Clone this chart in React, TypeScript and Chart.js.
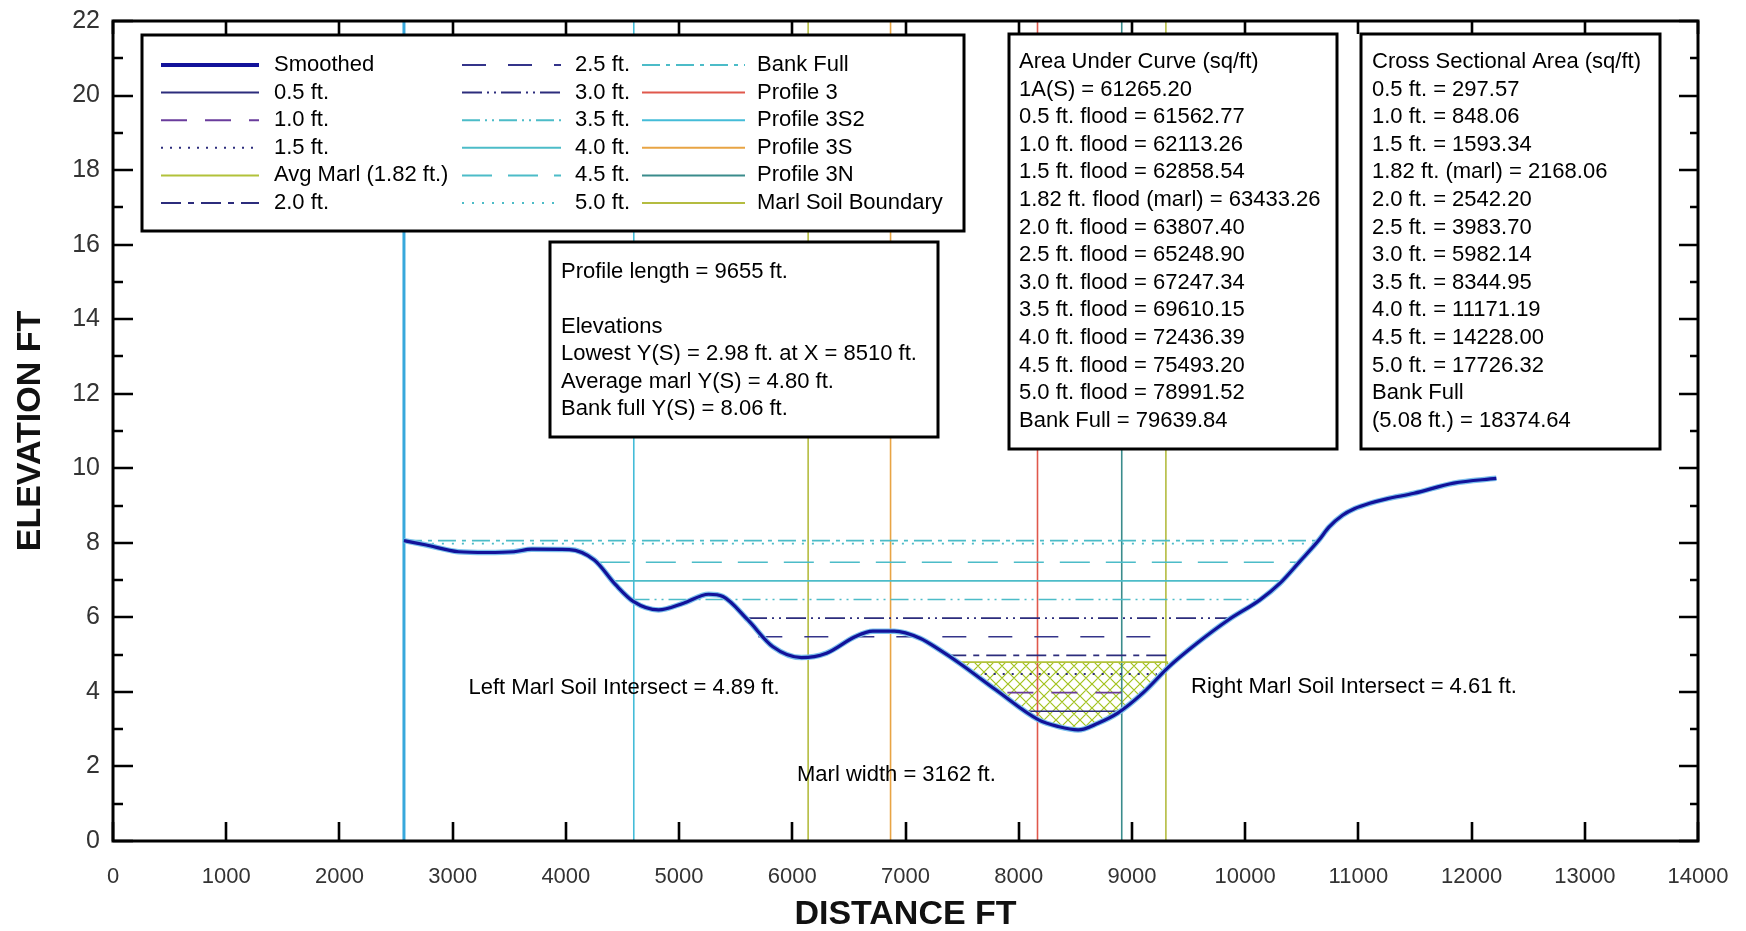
import React, { useEffect, useRef } from "react";
import { Chart, registerables } from "chart.js";
Chart.register(...registerables);

// ---------- DATA ----------
const profileX = [2570, 2768, 3052, 3300, 3541, 3698, 4030, 4251, 4441, 4599, 4819, 5039, 5261, 5387, 5608, 5829, 6081, 6302, 6554, 6712, 6901, 7128, 7305, 7477, 7800, 8176, 8350, 8525, 8700, 8874, 9100, 9328, 9572, 9851, 10131, 10306, 10480, 10654, 10740, 10860, 10969, 11100, 11250, 11492, 11842, 12219];
const profileY = [8.06, 7.94, 7.76, 7.74, 7.76, 7.83, 7.82, 7.54, 6.87, 6.42, 6.2, 6.38, 6.62, 6.56, 5.93, 5.21, 4.92, 5.04, 5.48, 5.63, 5.63, 5.44, 5.12, 4.77, 4.05, 3.25, 3.07, 2.98, 3.16, 3.43, 3.98, 4.68, 5.3, 5.93, 6.47, 6.91, 7.49, 8.08, 8.42, 8.74, 8.92, 9.06, 9.18, 9.33, 9.6, 9.73];

const floodLabels = ["0.5 ft.", "1.0 ft.", "1.5 ft.", "Avg Marl (1.82 ft.)", "2.0 ft.", "2.5 ft.", "3.0 ft.", "3.5 ft.", "4.0 ft.", "4.5 ft.", "5.0 ft.", "Bank Full"];
const floodLevels = [3.48, 3.98, 4.48, 4.8, 4.98, 5.48, 5.98, 6.48, 6.98, 7.48, 7.98, 8.06];
const floodStartX = [8050, 7900, 7620, 7477, 7360, 5700, 5600, 4580, 4410, 4300, 2640, 2570];
const floodEndX = [8900, 9080, 9220, 9320, 9330, 9330, 9850, 10120, 10300, 10480, 10640, 10660];

const verticalLabels = ["Start", "Profile 3S2", "Marl Soil Boundary", "Profile 3S", "Profile 3", "Profile 3N", "Marl Soil Boundary"];
const verticalX = [2570, 4600, 6140, 6868, 8166, 8910, 9300];

const marlLevel = 4.8;
const marlHatchStart = 7477;
const marlHatchEnd = 9328;

const xTickStep = 1000;
const yTickStep = 2;

const legendColumns = [
  ["Smoothed", "0.5 ft.", "1.0 ft.", "1.5 ft.", "Avg Marl (1.82 ft.)", "2.0 ft."],
  ["2.5 ft.", "3.0 ft.", "3.5 ft.", "4.0 ft.", "4.5 ft.", "5.0 ft."],
  ["Bank Full", "Profile 3", "Profile 3S2", "Profile 3S", "Profile 3N", "Marl Soil Boundary"],
];

const profileInfo = [
  "Profile length = 9655 ft.",
  "",
  "Elevations",
  "Lowest Y(S) = 2.98 ft. at X = 8510 ft.",
  "Average marl Y(S) = 4.80 ft.",
  "Bank full Y(S) = 8.06 ft.",
];
const areaLines = [
  "Area Under Curve (sq/ft)",
  "1A(S) = 61265.20",
  "0.5 ft. flood = 61562.77",
  "1.0 ft. flood = 62113.26",
  "1.5 ft. flood = 62858.54",
  "1.82 ft. flood (marl) = 63433.26",
  "2.0 ft. flood = 63807.40",
  "2.5 ft. flood = 65248.90",
  "3.0 ft. flood = 67247.34",
  "3.5 ft. flood = 69610.15",
  "4.0 ft. flood = 72436.39",
  "4.5 ft. flood = 75493.20",
  "5.0 ft. flood = 78991.52",
  "Bank Full = 79639.84",
];
const crossLines = [
  "Cross Sectional Area (sq/ft)",
  "0.5 ft. = 297.57",
  "1.0 ft. = 848.06",
  "1.5 ft. = 1593.34",
  "1.82 ft. (marl) = 2168.06",
  "2.0 ft. = 2542.20",
  "2.5 ft. = 3983.70",
  "3.0 ft. = 5982.14",
  "3.5 ft. = 8344.95",
  "4.0 ft. = 11171.19",
  "4.5 ft. = 14228.00",
  "5.0 ft. = 17726.32",
  "Bank Full",
  "(5.08 ft.) = 18374.64",
];
const annotations = [
  { text: "Left Marl Soil Intersect = 4.89 ft.", x: 3140, y: 4.1 },
  { text: "Marl width = 3162 ft.", x: 6042, y: 1.77 },
  { text: "Right Marl Soil Intersect = 4.61 ft.", x: 9522, y: 4.13 },
];

// ---------- STYLES ----------
const STY: Record<string, { c: string; w: number; d: number[] }> = {
  Smoothed: { c: "#12129a", w: 3.5, d: [] },
  "0.5 ft.": { c: "#2c2c7c", w: 1.6, d: [] },
  "1.0 ft.": { c: "#6a3c9c", w: 1.6, d: [26, 18] },
  "1.5 ft.": { c: "#2c2c7c", w: 1.8, d: [2, 7] },
  "Avg Marl (1.82 ft.)": { c: "#b2c23a", w: 1.8, d: [] },
  "2.0 ft.": { c: "#2c2c7c", w: 1.6, d: [20, 7, 6, 7] },
  "2.5 ft.": { c: "#34348a", w: 1.6, d: [24, 22] },
  "3.0 ft.": { c: "#2c2c7c", w: 1.6, d: [20, 5, 2, 5, 2, 5] },
  "3.5 ft.": { c: "#4cbcc8", w: 1.6, d: [18, 5, 2, 5, 2, 5] },
  "4.0 ft.": { c: "#4cbcc8", w: 1.6, d: [] },
  "4.5 ft.": { c: "#4cbcc8", w: 1.6, d: [30, 16] },
  "5.0 ft.": { c: "#4cbcc8", w: 1.8, d: [2, 8] },
  "Bank Full": { c: "#4cbcc8", w: 1.6, d: [18, 6, 4, 6] },
  "Profile 3": { c: "#e0584c", w: 1.6, d: [] },
  "Profile 3S2": { c: "#44bcd8", w: 1.6, d: [] },
  "Profile 3S": { c: "#e8a444", w: 1.6, d: [] },
  "Profile 3N": { c: "#3a8c8c", w: 1.6, d: [] },
  "Marl Soil Boundary": { c: "#b4bc40", w: 1.6, d: [] },
  Start: { c: "#38a8dc", w: 3, d: [] },
};

const FONT = '"Liberation Sans", Arial, sans-serif';

function makeHatch(): CanvasPattern | string {
  const c = document.createElement("canvas");
  c.width = 12;
  c.height = 12;
  const g = c.getContext("2d");
  if (!g) return "rgba(170,190,50,0.4)";
  g.strokeStyle = "#a2c21e";
  g.lineWidth = 1.2;
  g.beginPath();
  g.moveTo(0, 0);
  g.lineTo(12, 12);
  g.moveTo(12, 0);
  g.lineTo(0, 12);
  g.moveTo(-6, 6);
  g.lineTo(6, 18);
  g.moveTo(6, -6);
  g.lineTo(18, 6);
  g.moveTo(18, 6);
  g.lineTo(6, 18);
  g.moveTo(6, -6);
  g.lineTo(-6, 6);
  g.stroke();
  const p = g.createPattern(c, "repeat");
  return p || "rgba(170,190,50,0.4)";
}

function drawBox(ctx: CanvasRenderingContext2D, x: number, y: number, w: number, h: number) {
  ctx.save();
  ctx.fillStyle = "#fff";
  ctx.fillRect(x, y, w, h);
  ctx.strokeStyle = "#000";
  ctx.lineWidth = 3;
  ctx.setLineDash([]);
  ctx.strokeRect(x, y, w, h);
  ctx.restore();
}

const overlay = {
  id: "overlay",
  afterDatasetsDraw(chart: any) {
    const ctx: CanvasRenderingContext2D = chart.ctx;
    ctx.save();
    ctx.font = `22px ${FONT}`;
    ctx.textBaseline = "middle";
    ctx.textAlign = "left";
    ctx.fillStyle = "#000";

    // legend box
    drawBox(ctx, 142, 35, 822, 196);
    const colLineX = [[161, 259], [462, 561], [642, 745]];
    const colTextX = [274, 575, 757];
    legendColumns.forEach((col, ci) => {
      col.forEach((label, ri) => {
        const y = 65 + ri * 27.6;
        const s = STY[label];
        ctx.save();
        ctx.strokeStyle = s.c;
        ctx.lineWidth = label === "Smoothed" ? 4 : 2;
        ctx.setLineDash(s.d);
        ctx.beginPath();
        ctx.moveTo(colLineX[ci][0], y);
        ctx.lineTo(colLineX[ci][1], y);
        ctx.stroke();
        ctx.restore();
        ctx.fillStyle = "#000";
        ctx.fillText(label, colTextX[ci], y);
      });
    });

    // profile box
    drawBox(ctx, 550, 242, 388, 195);
    profileInfo.forEach((t, i) => ctx.fillText(t, 561, 271.5 + i * 27.5));

    // area box
    drawBox(ctx, 1009, 34, 328, 415);
    areaLines.forEach((t, i) => ctx.fillText(t, 1019, 62 + i * 27.6));

    // cross section box
    drawBox(ctx, 1361, 34, 299, 415);
    crossLines.forEach((t, i) => ctx.fillText(t, 1372, 62 + i * 27.6));

    // annotations through scales
    const xs = chart.scales.x;
    const ys = chart.scales.y;
    annotations.forEach((a) => {
      ctx.fillText(a.text, xs.getPixelForValue(a.x), ys.getPixelForValue(a.y));
    });
    ctx.restore();
  },
  afterDraw(chart: any) {
    const ctx: CanvasRenderingContext2D = chart.ctx;
    const { left, right, top, bottom } = chart.chartArea;
    const xs = chart.scales.x;
    const ys = chart.scales.y;
    ctx.save();
    ctx.strokeStyle = "#000";
    ctx.lineWidth = 3;
    ctx.setLineDash([]);
    ctx.strokeRect(left, top, right - left, bottom - top);

    ctx.lineWidth = 2.6;
    ctx.beginPath();
    xs.ticks.forEach((t: any) => {
      const px = Math.round(xs.getPixelForValue(t.value));
      ctx.moveTo(px, bottom);
      ctx.lineTo(px, bottom - 19);
      ctx.moveTo(px, top);
      ctx.lineTo(px, top + 13);
    });
    const yt = ys.ticks.map((t: any) => t.value);
    yt.forEach((v: number, i: number) => {
      const py = Math.round(ys.getPixelForValue(v));
      ctx.moveTo(left, py);
      ctx.lineTo(left + 20, py);
      ctx.moveTo(right, py);
      ctx.lineTo(right - 19, py);
      if (i < yt.length - 1) {
        const pm = Math.round(ys.getPixelForValue((v + yt[i + 1]) / 2));
        ctx.moveTo(left, pm);
        ctx.lineTo(left + 10, pm);
        ctx.moveTo(right, pm);
        ctx.lineTo(right - 8, pm);
      }
    });
    ctx.stroke();

    ctx.fillStyle = "#111";
    ctx.font = `bold 34px ${FONT}`;
    ctx.textAlign = "center";
    ctx.textBaseline = "middle";
    ctx.fillText("DISTANCE FT", (left + right) / 2, 915);
    ctx.save();
    ctx.translate(31, (top + bottom) / 2);
    ctx.rotate(-Math.PI / 2);
    ctx.fillText("ELEVATION FT", 0, 0);
    ctx.restore();
    ctx.restore();
  },
};

export default function App() {
  const ref = useRef<HTMLCanvasElement>(null);
  useEffect(() => {
    const canvas = ref.current;
    if (!canvas) return;
    const hatch = makeHatch();
    const curve = profileX.map((x, i) => ({ x, y: profileY[i] }));

    const datasets: any[] = [];
    datasets.push({
      label: "Smoothed",
      data: curve,
      showLine: true,
      borderColor: STY.Smoothed.c,
      borderWidth: 3.2,
      pointRadius: 0,
      cubicInterpolationMode: "monotone",
      order: 0,
    });
    datasets.push({
      label: "shadow",
      data: curve,
      showLine: true,
      borderColor: "#7cc0ec",
      borderWidth: 5.5,
      pointRadius: 0,
      cubicInterpolationMode: "monotone",
      order: 1,
    });
    floodLabels.forEach((lab, i) => {
      const s = STY[lab];
      datasets.push({
        label: lab,
        data: [
          { x: floodStartX[i], y: floodLevels[i] },
          { x: floodEndX[i], y: floodLevels[i] },
        ],
        showLine: true,
        borderColor: s.c,
        borderWidth: s.w,
        borderDash: s.d,
        pointRadius: 0,
        order: 2,
      });
    });
    verticalLabels.forEach((lab, i) => {
      const s = STY[lab];
      datasets.push({
        label: lab,
        data: [
          { x: verticalX[i], y: 0 },
          { x: verticalX[i], y: 22 },
        ],
        showLine: true,
        borderColor: s.c,
        borderWidth: s.w,
        pointRadius: 0,
        order: 3,
      });
    });
    datasets.push({
      label: "Marl hatch",
      data: curve.filter((p) => p.x >= marlHatchStart && p.x <= marlHatchEnd),
      showLine: true,
      borderWidth: 0,
      borderColor: "rgba(0,0,0,0)",
      backgroundColor: hatch,
      fill: { value: marlLevel },
      pointRadius: 0,
      cubicInterpolationMode: "monotone",
      order: 4,
    });

    const chart = new Chart(canvas, {
      type: "scatter",
      data: { datasets },
      options: {
        animation: false,
        responsive: false,
        devicePixelRatio: 1,
        layout: { padding: { left: 0, top: 21, right: 48, bottom: 0 } },
        plugins: { legend: { display: false }, tooltip: { enabled: false } },
        scales: {
          x: {
            type: "linear",
            min: 0,
            max: 14000,
            afterFit: (s: any) => {
              s.height = 90;
              s.paddingLeft = 0;
              s.paddingRight = 0;
            },
            ticks: {
              stepSize: xTickStep,
              padding: 23,
              color: "#333",
              font: { family: FONT, size: 22 },
              maxRotation: 0,
              autoSkip: false,
              callback: (v: any) => String(v),
            },
            grid: { display: false, drawTicks: false },
            border: { display: false },
          },
          y: {
            type: "linear",
            min: 0,
            max: 22,
            afterFit: (s: any) => {
              s.width = 113;
              s.paddingTop = 0;
              s.paddingBottom = 0;
            },
            ticks: {
              stepSize: yTickStep,
              padding: 13,
              color: "#333",
              font: { family: FONT, size: 25 },
              callback: (v: any) => String(v),
            },
            grid: { display: false, drawTicks: false },
            border: { display: false },
          },
        },
      } as any,
      plugins: [overlay],
    });
    return () => chart.destroy();
  }, []);
  return (
    <div style={{ position: "absolute", left: 0, top: 0, width: 1746, height: 931, background: "#fff" }}>
      <canvas ref={ref} width={1746} height={931} style={{ display: "block" }} />
    </div>
  );
}
